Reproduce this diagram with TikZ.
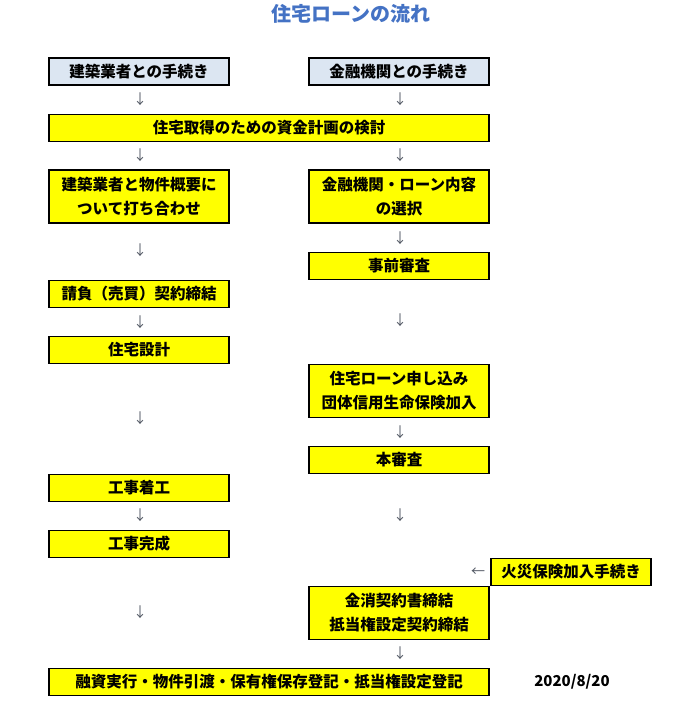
\documentclass[tikz,border=0pt]{standalone}
\usepackage{fontspec}
\setmainfont{Noto Sans CJK JP}
\usepackage{xcolor}
\usepackage{tikz}
\usetikzlibrary{positioning}

\definecolor{headblue}{RGB}{68,114,196}
\definecolor{headfill}{RGB}{220,230,242}
\definecolor{stepyellow}{RGB}{255,255,0}
\definecolor{arrowgray}{RGB}{80,86,98}

\begin{document}
\begin{tikzpicture}[x=1pt, y=-1pt,
    box/.style={draw, line width=1.8pt, fill=stepyellow, inner sep=0pt,
      minimum width=180pt, minimum height=27pt, align=center,
      font=\fontsize{15.5}{24}\selectfont\bfseries},
    headbox/.style={box, fill=headfill},
    tallbox/.style={box, minimum height=53pt},
    widebox/.style={box, minimum width=440pt},
    down/.style={inner sep=0pt, text=arrowgray, font=\fontsize{14}{14}\selectfont}]
  \useasboundingbox (0,0) rectangle (698,722);

  \node[text=headblue, font=\fontsize{20}{20}\selectfont\bfseries] (title) at (351,14) {住宅ローンの流れ};

  % left column
  \node[headbox] (kenA) at (139,71.5) {建築業者との手続き};
  \node[tallbox] (kenB) at (139,196.5) {建築業者と物件概要に\\ついて打ち合わせ};
  \node[box] (ukeoi) at (139,294) {請負（売買）契約締結};
  \node[box] (sekkei) at (139,350) {住宅設計};
  \node[box] (chakko) at (139,488) {工事着工};
  \node[box] (kansei) at (139,544) {工事完成};

  % right column
  \node[headbox] (kinA) at (399,71.5) {金融機関との手続き};
  \node[tallbox] (kinB) at (399,196.5) {金融機関・ローン内容\\の選択};
  \node[box] (jizen) at (399,266) {事前審査};
  \node[tallbox] (moushi) at (399,391) {住宅ローン申し込み\\団体信用生命保険加入};
  \node[box] (honshin) at (399,460) {本審査};
  \node[tallbox] (kinsho) at (399,613) {金消契約書締結\\抵当権設定契約締結};
  \node[box, minimum width=160pt] (kasai) at (571,572) {火災保険加入手続き};

  % shared steps
  \node[widebox] (plan) at (269,128) {住宅取得のための資金計画の検討};
  \node[widebox] (jikko) at (269,682) {融資実行・物件引渡・保有権保存登記・抵当権設定登記};
  \node[font=\fontsize{15}{15}\selectfont\bfseries] (date) at (572,682) {2020/8/20};

  % arrows
  \node[down] (dl1) at (140,99) {↓};
  \node[down] (dl2) at (140,155) {↓};
  \node[down] (dl3) at (140,250) {↓};
  \node[down] (dl4) at (140,322) {↓};
  \node[down] (dl5) at (140,418) {↓};
  \node[down] (dl6) at (140,515) {↓};
  \node[down] (dl7) at (140,612) {↓};
  \node[down] (dr1) at (400,99) {↓};
  \node[down] (dr2) at (400,155) {↓};
  \node[down] (dr3) at (400,238) {↓};
  \node[down] (dr4) at (400,320) {↓};
  \node[down] (dr5) at (400,432) {↓};
  \node[down] (dr6) at (400,515) {↓};
  \node[down] (dr7) at (400,653) {↓};
  \node[down] (fire) at (478,572) {←};
\end{tikzpicture}
\end{document}
